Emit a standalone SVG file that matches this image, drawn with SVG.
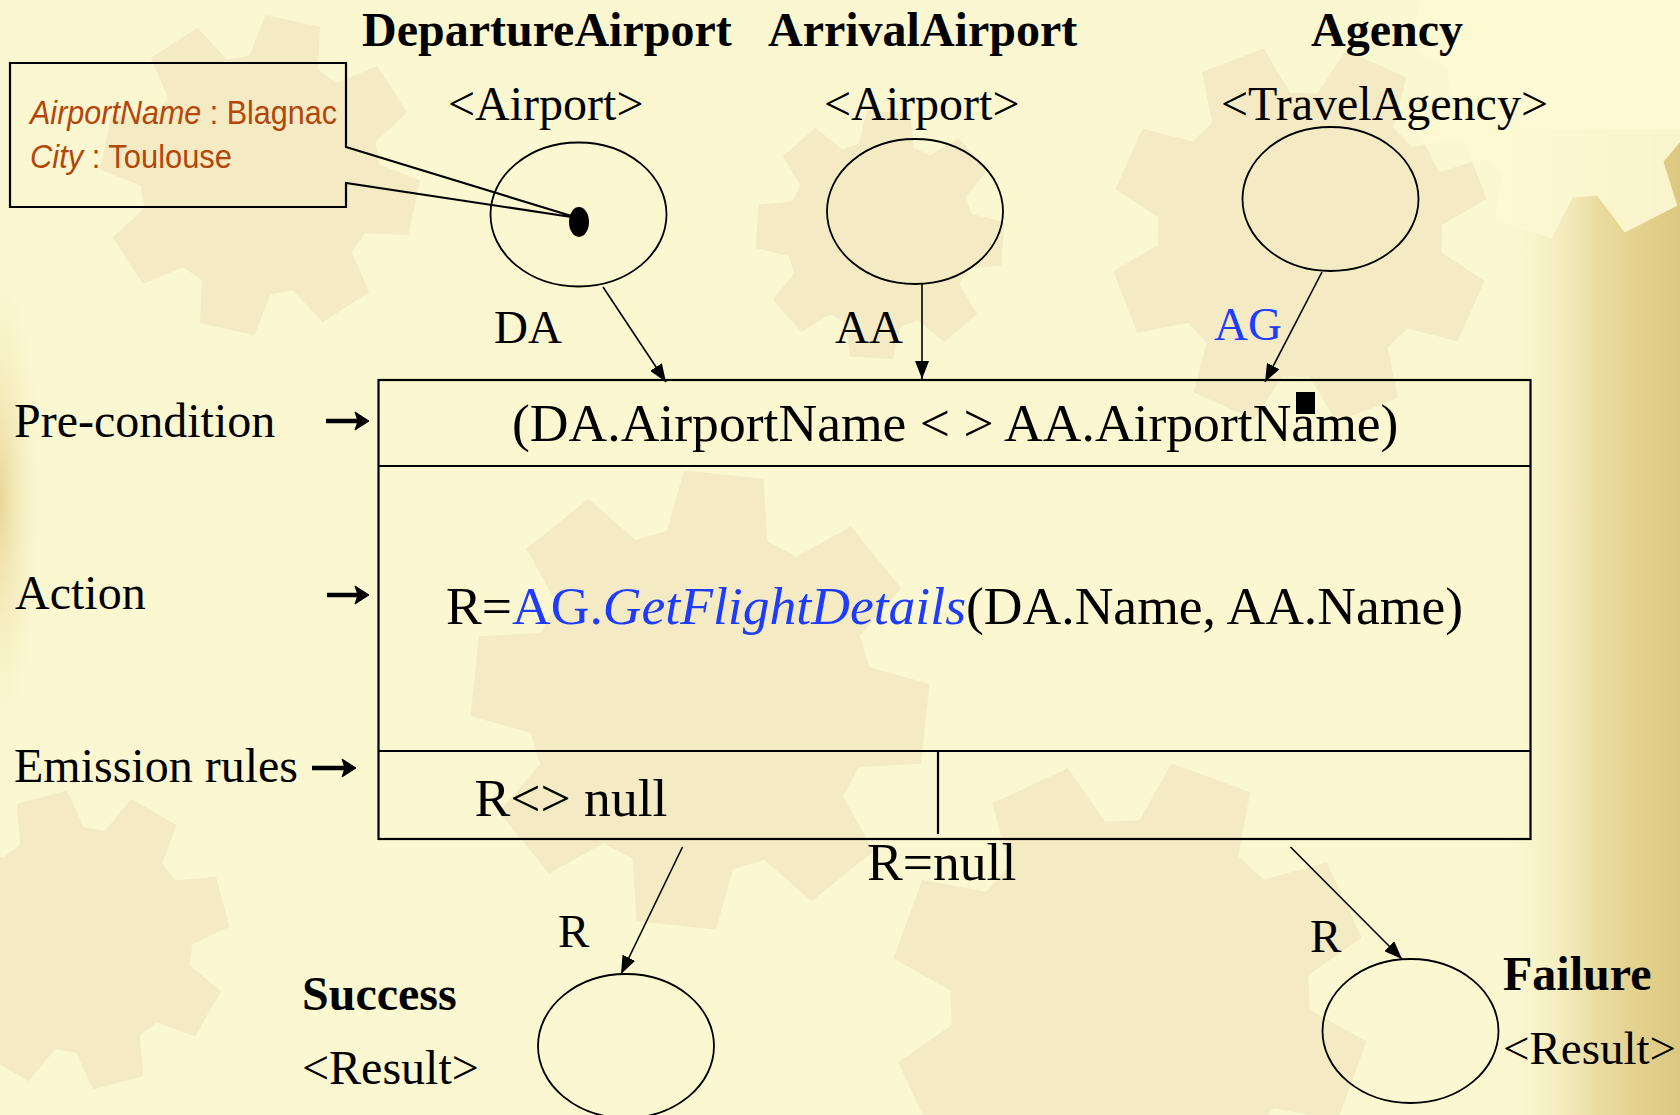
<svg xmlns="http://www.w3.org/2000/svg" width="1680" height="1115" viewBox="0 0 1680 1115">
  <defs>
    <style>
      .serif { font-family: "Liberation Serif", "Times New Roman", serif; fill: #000; }
      .title { font-weight: bold; font-size: 48px; }
      .type { font-size: 48px; }
      .lbl { font-size: 47px; }
      .big { font-size: 53.6px; }
      .blue { fill: #1d3cff; }
      .place { fill: none; stroke: #000; stroke-width: 1.8; }
      .edge { fill: none; stroke: #000; stroke-width: 1.6; marker-end: url(#head); }
      .frame { fill: none; stroke: #000; stroke-width: 2.2; }
      .note { font-family: "Liberation Sans", Arial, sans-serif; fill: #b3470a; font-size: 33px; }
      .gear { fill: #efe4bb; opacity: 0.65; }
    </style>
    <marker id="head" viewBox="0 0 18 14" refX="18" refY="7" markerWidth="18" markerHeight="14" markerUnits="userSpaceOnUse" orient="auto">
      <path d="M0,0 L18,7 L0,14 Z" fill="#000"/>
    </marker>
    <path id="cog" d="M71.7,-21.9 L98.5,-17.4 L98.5,17.4 L71.7,21.9 L66.2,35.2 L81.9,57.4 L57.4,81.9 L35.2,66.2 L21.9,71.7 L17.4,98.5 L-17.4,98.5 L-21.9,71.7 L-35.2,66.2 L-57.4,81.9 L-81.9,57.4 L-66.2,35.2 L-71.7,21.9 L-98.5,17.4 L-98.5,-17.4 L-71.7,-21.9 L-66.2,-35.2 L-81.9,-57.4 L-57.4,-81.9 L-35.2,-66.2 L-21.9,-71.7 L-17.4,-98.5 L17.4,-98.5 L21.9,-71.7 L35.2,-66.2 L57.4,-81.9 L81.9,-57.4 L66.2,-35.2 Z"/>
    <linearGradient id="rightEdge" x1="1500" y1="0" x2="1680" y2="0" gradientUnits="userSpaceOnUse">
      <stop offset="0" stop-color="#fbf6cf" stop-opacity="0"/>
      <stop offset="0.55" stop-color="#eadb9f"/>
      <stop offset="0.8" stop-color="#e3d08c"/>
      <stop offset="1" stop-color="#dcc880"/>
    </linearGradient>
    <radialGradient id="leftEdge" cx="0" cy="500" r="1" gradientUnits="userSpaceOnUse" gradientTransform="translate(0,500) scale(45,260) translate(0,-500)">
      <stop offset="0" stop-color="#e8d696"/>
      <stop offset="1" stop-color="#fbf6cf" stop-opacity="0"/>
    </radialGradient>
  </defs>

  <!-- backdrop: pale paper with faint cogs -->
  <g id="backdrop">
    <rect x="0" y="0" width="1680" height="1115" fill="#fbf7d1"/>
    <ellipse cx="0" cy="500" rx="45" ry="260" fill="url(#leftEdge)"/>
    <use href="#cog" class="gear" transform="translate(260,175) rotate(12) scale(1.6)"/>
    <use href="#cog" class="gear" transform="translate(880,235) rotate(4) scale(1.25)"/>
    <use href="#cog" class="gear" transform="translate(1300,235) rotate(24) scale(1.9)"/>
    <use href="#cog" class="gear" transform="translate(700,700) rotate(6) scale(2.3)"/>
    <use href="#cog" class="gear" transform="translate(1130,1000) rotate(20) scale(2.4)"/>
    <use href="#cog" class="gear" transform="translate(80,940) rotate(30) scale(1.5)"/>
    <rect x="1500" y="130" width="180" height="985" fill="url(#rightEdge)"/>
    <use href="#cog" transform="translate(1575,70) rotate(18) scale(1.7)" fill="#fcf8d3" opacity="0.9"/>
  </g>

  <!-- attribute note attached to the departure token -->
  <g id="note">
    <path class="frame" stroke-width="2" d="M346,147 L578,218 L346,183 V207 H10 V63 H346 Z"/>
    <ellipse cx="579" cy="222" rx="10" ry="15" fill="#000"/>
    <text class="note" x="30" y="124" textLength="307" lengthAdjust="spacingAndGlyphs"><tspan font-style="italic">AirportName</tspan> : Blagnac</text>
    <text class="note" x="30" y="168" textLength="202" lengthAdjust="spacingAndGlyphs"><tspan font-style="italic">City</tspan> : Toulouse</text>
  </g>

  <!-- input places -->
  <g id="departure">
    <text class="serif title" x="362" y="46">DepartureAirport</text>
    <text class="serif type" x="448" y="120">&lt;Airport&gt;</text>
    <ellipse class="place" cx="578.5" cy="214.5" rx="88" ry="72"/>
  </g>
  <g id="arrival">
    <text class="serif title" x="768" y="46">ArrivalAirport</text>
    <text class="serif type" x="824" y="120">&lt;Airport&gt;</text>
    <ellipse class="place" cx="915" cy="211.5" rx="88" ry="72.5"/>
  </g>
  <g id="agency">
    <text class="serif title" x="1311" y="46">Agency</text>
    <text class="serif type" x="1221" y="120">&lt;TravelAgency&gt;</text>
    <ellipse class="place" cx="1330.5" cy="199" rx="88" ry="72"/>
  </g>

  <!-- transition box: pre-condition / action / emission rules -->
  <g id="transition">
    <rect class="frame" x="378.5" y="380" width="1152" height="459"/>
    <line class="frame" x1="378.5" y1="466" x2="1530.5" y2="466"/>
    <line class="frame" x1="378.5" y1="751" x2="1530.5" y2="751"/>
    <line class="frame" stroke-width="1.8" x1="938" y1="751" x2="938" y2="834"/>
    <text class="serif big" x="512" y="441">(DA.AirportName &lt; &gt; AA.AirportName)</text>
    <rect x="1296" y="392" width="19" height="22" fill="#000"/>
    <text class="serif big" x="446" y="624">R=<tspan class="blue">AG.<tspan font-style="italic">GetFlightDetails</tspan></tspan>(DA.Name, AA.Name)</text>
    <text class="serif big" x="474.5" y="815.5">R&lt;&gt; null</text>
  </g>

  <!-- row captions -->
  <g id="captions">
    <text class="serif type" x="14" y="436.5">Pre-condition</text>
    <text class="serif type" x="15" y="609">Action</text>
    <text class="serif type" x="14" y="782">Emission rules</text>
    <g fill="#000" stroke="#000">
      <line x1="326" y1="421" x2="362" y2="421" stroke-width="4.5"/>
      <path d="M369,421 L355,412 L358,421 L355,430 Z" stroke-width="1"/>
      <line x1="327" y1="595" x2="362" y2="595" stroke-width="4.5"/>
      <path d="M369,595 L355,586 L358,595 L355,604 Z" stroke-width="1"/>
      <line x1="312" y1="768" x2="349" y2="768" stroke-width="4.5"/>
      <path d="M356,768 L342,759 L345,768 L342,777 Z" stroke-width="1"/>
    </g>
  </g>

  <!-- output places -->
  <g id="success">
    <text class="serif title" x="302" y="1009.5">Success</text>
    <text class="serif type" x="302" y="1083.5">&lt;Result&gt;</text>
    <ellipse class="place" cx="626" cy="1046" rx="88" ry="72"/>
  </g>
  <g id="failure">
    <text class="serif title" x="1503" y="990">Failure</text>
    <text class="serif lbl" x="1503" y="1063.5">&lt;Result&gt;</text>
    <ellipse class="place" cx="1410.5" cy="1031" rx="88" ry="72"/>
  </g>

  <!-- arcs -->
  <g id="arcs">
    <line class="edge" x1="603" y1="287" x2="666" y2="382"/>
    <line class="edge" x1="922" y1="284" x2="922" y2="379"/>
    <line class="edge" x1="1322" y1="272" x2="1265" y2="382"/>
    <line class="edge" x1="682.5" y1="847" x2="621" y2="974"/>
    <line class="edge" x1="1290.5" y1="847" x2="1402" y2="959"/>
    <text class="serif lbl" x="494" y="343">DA</text>
    <text class="serif lbl" x="835" y="343">AA</text>
    <text class="serif lbl blue" x="1214" y="340">AG</text>
    <text class="serif big" x="867" y="880">R=null</text>
    <text class="serif lbl" x="558" y="947">R</text>
    <text class="serif lbl" x="1310" y="952">R</text>
  </g>
</svg>
